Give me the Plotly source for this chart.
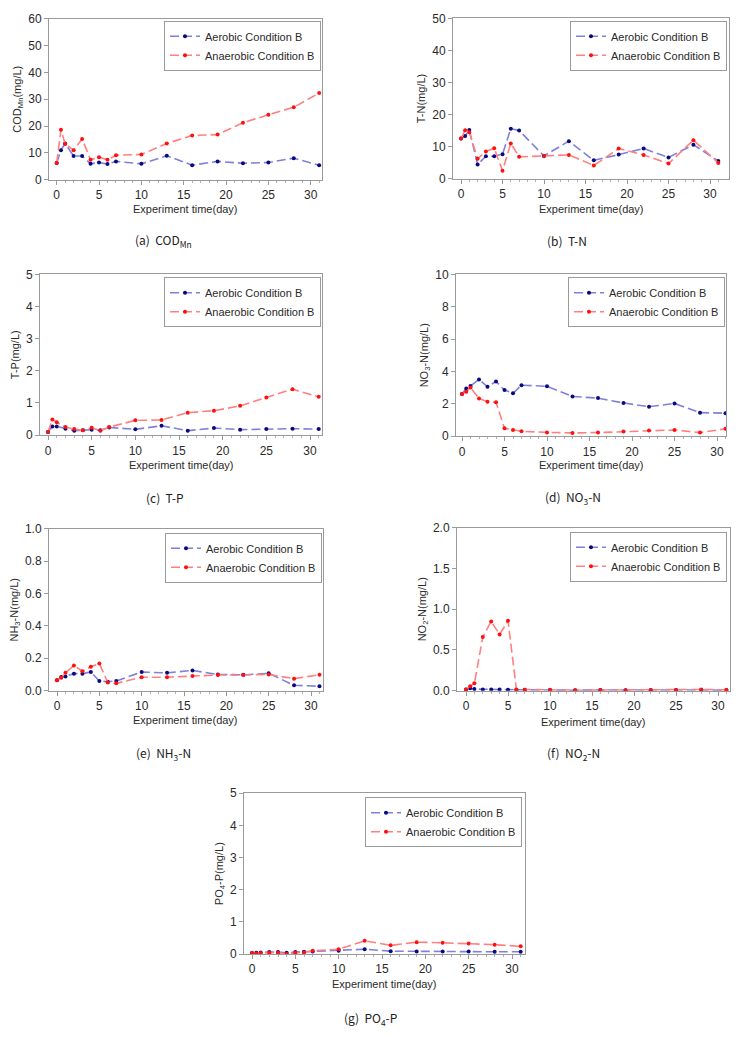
import plotly.graph_objects as go

days = [0, 0.5, 1, 2, 3, 4, 5, 6, 7, 10, 13, 16, 19, 22, 25, 28, 31]

cod_aer = [6.2, 11.0, 13.5, 8.8, 8.8, 5.9, 6.4, 5.8, 6.8, 5.9, 8.9, 5.4, 6.8, 6.1, 6.4, 8.0, 5.4]
cod_ana = [6.2, 18.6, 13.3, 11.0, 15.2, 7.4, 8.4, 7.4, 9.1, 9.4, 13.5, 16.5, 16.8, 21.2, 24.2, 27.0, 32.3]

tn_aer = [12.5, 13.3, 15.2, 4.4, 7.0, 7.0, 7.6, 15.6, 15.0, 7.1, 11.7, 5.7, 7.5, 9.4, 6.6, 10.6, 5.5]
tn_ana = [12.5, 15.1, 14.5, 6.2, 8.5, 9.5, 2.5, 11.0, 6.8, 7.1, 7.4, 4.1, 9.4, 7.4, 4.7, 12.0, 4.9]

tp_aer = [0.10, 0.27, 0.27, 0.20, 0.14, 0.15, 0.17, 0.15, 0.24, 0.18, 0.29, 0.14, 0.22, 0.17, 0.19, 0.20, 0.19]
tp_ana = [0.10, 0.49, 0.40, 0.25, 0.19, 0.15, 0.23, 0.14, 0.25, 0.46, 0.47, 0.70, 0.76, 0.91, 1.17, 1.43, 1.19]

no3_aer = [2.60, 2.95, 3.10, 3.50, 3.05, 3.38, 2.85, 2.65, 3.15, 3.08, 2.45, 2.35, 2.05, 1.82, 2.02, 1.45, 1.42]
no3_ana = [2.60, 2.75, 3.00, 2.33, 2.13, 2.10, 0.48, 0.38, 0.30, 0.23, 0.20, 0.22, 0.28, 0.35, 0.38, 0.22, 0.45]

nh3_aer = [0.065, 0.085, 0.088, 0.105, 0.105, 0.115, 0.060, 0.055, 0.060, 0.115, 0.110, 0.125, 0.100, 0.098, 0.107, 0.033, 0.027]
nh3_ana = [0.065, 0.080, 0.110, 0.155, 0.120, 0.148, 0.168, 0.050, 0.045, 0.083, 0.083, 0.090, 0.097, 0.097, 0.100, 0.074, 0.098]

no2_aer = [0.015, 0.030, 0.020, 0.015, 0.015, 0.013, 0.012, 0.010, 0.010, 0.008, 0.005, 0.008, 0.005, 0.008, 0.008, 0.008, 0.005]
no2_ana = [0.015, 0.055, 0.090, 0.660, 0.850, 0.690, 0.860, 0.015, 0.012, 0.010, 0.005, 0.008, 0.005, 0.008, 0.008, 0.015, 0.010]

po4_aer = [0.03, 0.04, 0.05, 0.06, 0.065, 0.04, 0.06, 0.07, 0.08, 0.10, 0.15, 0.09, 0.08, 0.08, 0.08, 0.07, 0.07]
po4_ana = [0.03, 0.02, 0.03, 0.04, 0.04, 0.00, 0.04, 0.05, 0.10, 0.15, 0.41, 0.27, 0.37, 0.35, 0.33, 0.29, 0.24]

series_names = ["Aerobic Condition B", "Anaerobic Condition B"]
y_titles = ["COD<sub>Mn</sub>(mg/L)", "T-N(mg/L)", "T-P(mg/L)", "NO<sub>3</sub>-N(mg/L)",
            "NH<sub>3</sub>-N(mg/L)", "NO<sub>2</sub>-N(mg/L)", "PO<sub>4</sub>-P(mg/L)"]
captions = ["(a)  COD<sub>Mn</sub>", "(b)  T-N", "(c)  T-P", "(d)  NO<sub>3</sub>-N",
            "(e)  NH<sub>3</sub>-N", "(f)  NO<sub>2</sub>-N", "(g)  PO<sub>4</sub>-P"]
x_title = "Experiment time(day)"
y_max = [60, 50, 5, 10, 1.0, 2.0, 5]
y_dtick = [10, 10, 1, 2, 0.2, 0.5, 1]
y_fmt = ["d", "d", "d", "d", ".1f", ".1f", "d"]

data = [(cod_aer, cod_ana), (tn_aer, tn_ana), (tp_aer, tp_ana), (no3_aer, no3_ana),
        (nh3_aer, nh3_ana), (no2_aer, no2_ana), (po4_aer, po4_ana)]

W, H = 743, 1037
# layout in pixels: frame left, right, x=0 px, x=30 px, top(ymax) px, bottom(y=0) px
frames = [
    (49, 322, 56.7, 310.7, 12, 175),
    (453, 729, 461, 710, 11.5, 174),
    (40, 322, 48, 310, 271, 434),
    (456, 726, 462, 717, 271, 435),
    (49, 323, 57, 311, 529, 693),
    (457, 730, 466, 718, 528, 693),
    (244, 525, 252, 512, 797, 960),
]
legend_tr = [(321, 14), (727, 14), (321, 274), (725, 274), (322, 533), (727, 532), (522, 801)]
xtitle_y = [205, 205, 464, 464, 723, 725, 990]
cap_pos = [(163, 237), (567, 237), (165, 497), (573, 497), (163, 757), (573, 757), (370, 1025)]

fig = go.Figure()
tickfont = dict(family="Liberation Sans, Arial, sans-serif", size=12, color="#2a2a2a")
titlefont = dict(family="Liberation Sans, Arial, sans-serif", size=11, color="#2a2a2a")
line_cols = ["#8080dc", "#ff8080"]
mark_cols = ["#0a0a80", "#ff1010"]

for i, (aer, ana) in enumerate(data):
    L, R, x0, x30, top, bot = frames[i]
    sc = (x30 - x0) / 30.0
    xr = [(L - x0) / sc, (R - x0) / sc]
    xa = "x" if i == 0 else f"x{i+1}"
    ya = "y" if i == 0 else f"y{i+1}"
    lg = "legend" if i == 0 else f"legend{i+1}"
    for k, vals in enumerate((aer, ana)):
        fig.add_trace(go.Scatter(
            x=days, y=vals, mode="lines+markers", name=series_names[k],
            line=dict(color=line_cols[k], width=1.6, dash="9px,4px"),
            marker=dict(color=mark_cols[k], size=4, symbol="circle"),
            xaxis=xa, yaxis=ya, legend=lg, showlegend=True))
    axn = "" if i == 0 else str(i + 1)
    fig.update_layout(**{
        f"xaxis{axn}": dict(
            domain=[L / W, R / W], range=xr, anchor=ya, tickvals=[0, 5, 10, 15, 20, 25, 30],
            showline=True, linecolor="#9a9a9a", linewidth=1, mirror=True,
            ticks="outside", ticklen=4, tickcolor="#9a9a9a", showgrid=False, zeroline=False,
            tickfont=tickfont,
            minor=dict(tickvals=list(range(0, 32)), ticks="outside", ticklen=2, tickcolor="#b0b0b0"),
        ),
        f"yaxis{axn}": dict(
            domain=[1 - bot / H, 1 - top / H], range=[0, y_max[i]], anchor=xa,
            dtick=y_dtick[i], tickformat=y_fmt[i],
            showline=True, linecolor="#9a9a9a", linewidth=1, mirror=True,
            ticks="outside", ticklen=4, tickcolor="#9a9a9a", showgrid=False, zeroline=False,
            tickfont=tickfont, title=dict(text=y_titles[i], font=titlefont, standoff=4),
        ),
        lg: dict(
            x=legend_tr[i][0] / W, y=1 - legend_tr[i][1] / H, xanchor="right", yanchor="top",
            xref="paper", yref="paper",
            bordercolor="#9a9a9a", borderwidth=1, bgcolor="white",
            font=dict(family="Liberation Sans, Arial, sans-serif", size=11, color="#2a2a2a"),
            tracegroupgap=0, itemwidth=30,
        ),
    })
    fig.add_annotation(x=(L + R) / 2 / W, y=1 - xtitle_y[i] / H, xref="paper", yref="paper",
                       text=x_title, showarrow=False, xanchor="center", yanchor="middle",
                       font=titlefont)
    fig.add_annotation(x=cap_pos[i][0] / W, y=1 - cap_pos[i][1] / H, xref="paper", yref="paper",
                       text=captions[i], showarrow=False, xanchor="center", yanchor="middle",
                       font=dict(family="Noto Sans CJK KR, DejaVu Sans, sans-serif", size=12, color="#222222"))

fig.update_layout(width=W, height=H, margin=dict(l=0, r=0, t=0, b=0),
                  paper_bgcolor="white", plot_bgcolor="white")
fig.write_html("out.html")
